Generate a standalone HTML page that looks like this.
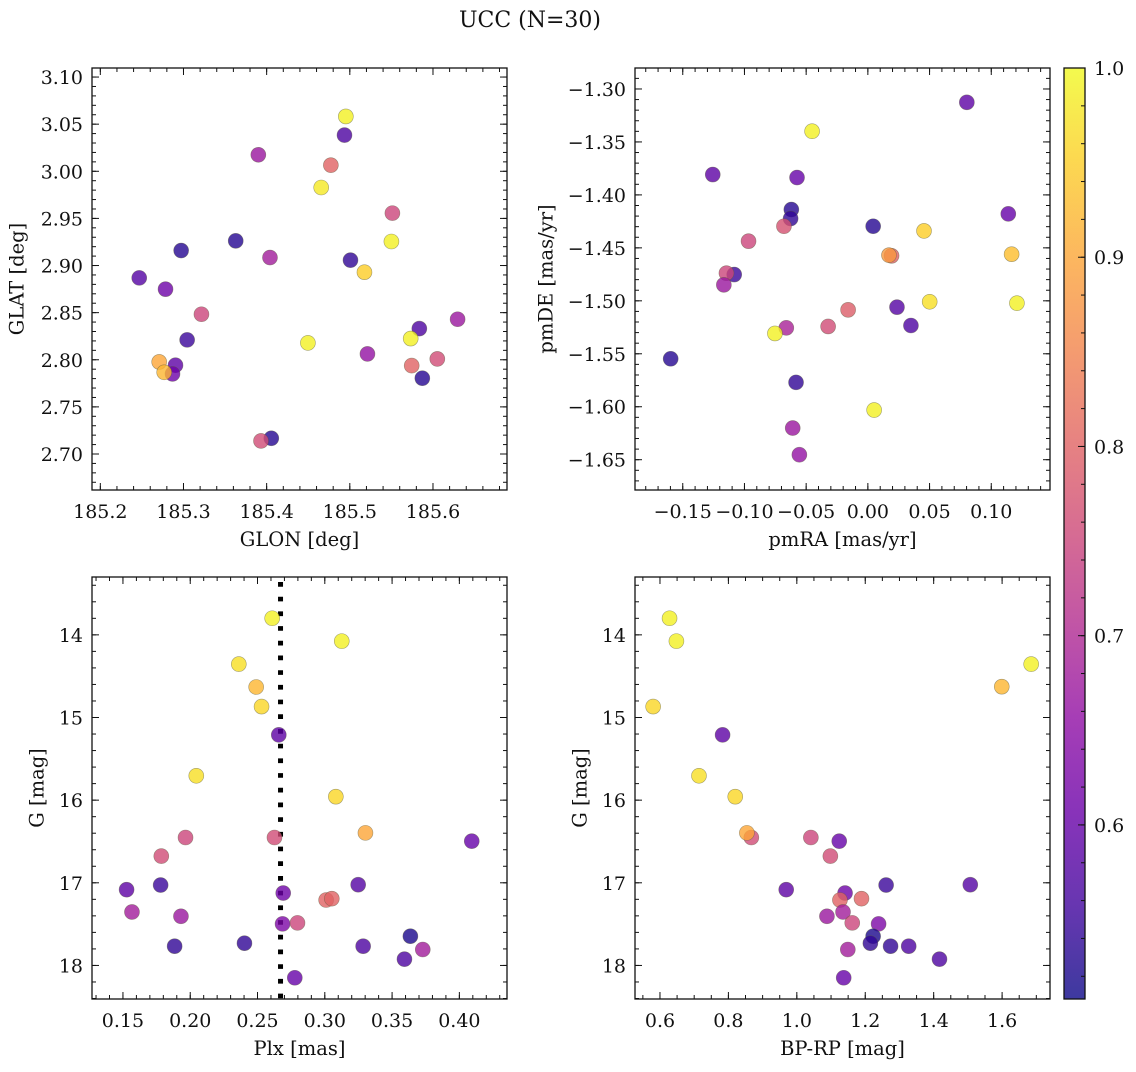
<!DOCTYPE html>
<html><head><meta charset="utf-8"><style>
html,body{margin:0;padding:0;background:#fff;}
svg text{font-family:"DejaVu Serif","Liberation Serif",serif;fill:#111;}
</style></head><body>
<svg id="fig" width="1136" height="1067" viewBox="0 0 1136 1067" xmlns="http://www.w3.org/2000/svg">
<text x="530" y="27" text-anchor="middle" font-size="22">UCC (N=30)</text>
<defs>
<linearGradient id="cbgrad" x1="0" y1="1" x2="0" y2="0">
<stop offset="0" stop-color="#0d0887"/><stop offset="0.1" stop-color="#41049d"/><stop offset="0.2" stop-color="#6a00a8"/><stop offset="0.3" stop-color="#8f0da4"/><stop offset="0.4" stop-color="#b12a90"/><stop offset="0.5" stop-color="#cc4778"/><stop offset="0.6" stop-color="#e16462"/><stop offset="0.7" stop-color="#f2844b"/><stop offset="0.8" stop-color="#fca636"/><stop offset="0.9" stop-color="#fcce25"/><stop offset="1" stop-color="#f0f921"/>
</linearGradient>
</defs>
</svg>
<script>
// ---- data: panel 1 (GLON vs GLAT)
const glon = [185.4952,185.4936,185.390,185.4772,185.4656,185.5512,185.550,185.3628,185.2972,185.404,185.5008,185.5176,185.2468,185.2784,185.3216,185.6296,185.5836,185.3044,185.4496,185.5732,185.5212,185.6052,185.2708,185.2904,185.5744,185.5872,185.2868,185.2768,185.4056,185.3932];
const glat = [3.0582,3.0384,3.0175,3.0065,2.9828,2.9556,2.9255,2.9262,2.9159,2.9085,2.9057,2.8929,2.8869,2.8749,2.8483,2.843,2.8331,2.8211,2.8179,2.8225,2.8062,2.8009,2.7977,2.7942,2.7938,2.7804,2.785,2.7867,2.7167,2.7139];
const prob1 = [0.99,0.57,0.67,0.80,0.98,0.75,0.99,0.53,0.53,0.68,0.54,0.95,0.58,0.61,0.75,0.67,0.57,0.55,0.99,0.99,0.66,0.76,0.90,0.59,0.80,0.53,0.61,0.92,0.53,0.76];
// ---- panel 2 (pmRA vs pmDE)
const pmra = [0.0802,-0.0452,-0.1257,-0.0574,-0.062,-0.0626,-0.068,0.0043,0.1138,0.0455,-0.0967,0.0192,0.0171,0.1165,-0.1083,-0.1146,-0.1167,0.0501,0.1208,0.0236,-0.016,-0.0322,0.0349,-0.0661,-0.0753,-0.1598,-0.0582,0.0051,-0.0609,-0.0555];
const pmde = [-1.3126,-1.3399,-1.3808,-1.3836,-1.4138,-1.4223,-1.4296,-1.4296,-1.4179,-1.434,-1.4437,-1.4575,-1.4569,-1.456,-1.4752,-1.4739,-1.4849,-1.5009,-1.5022,-1.506,-1.5085,-1.5242,-1.5233,-1.5255,-1.5308,-1.5547,-1.577,-1.6031,-1.6201,-1.6453];
const prob2 = [0.59,0.99,0.59,0.60,0.53,0.54,0.77,0.53,0.60,0.95,0.75,0.80,0.88,0.93,0.55,0.75,0.67,0.97,0.99,0.58,0.79,0.76,0.57,0.69,0.99,0.53,0.54,0.99,0.67,0.66];
// ---- panel 3 (Plx vs G)
const plx = [0.2609,0.3126,0.2361,0.249,0.253,0.2658,0.2045,0.3082,0.3302,0.4092,0.1965,0.2626,0.1785,0.1527,0.178,0.3248,0.2691,0.301,0.3052,0.1567,0.1931,0.2686,0.2797,0.1884,0.2403,0.3636,0.3285,0.3728,0.3592,0.2777];
const gmag3 = [13.799,14.076,14.354,14.631,14.868,15.21,15.705,15.958,16.396,16.496,16.452,16.452,16.677,17.083,17.027,17.023,17.124,17.208,17.192,17.353,17.405,17.497,17.485,17.767,17.731,17.646,17.767,17.807,17.924,18.149];
const prob3 = [0.99,0.99,0.97,0.92,0.96,0.59,0.97,0.96,0.90,0.60,0.75,0.76,0.76,0.59,0.55,0.58,0.61,0.80,0.80,0.68,0.67,0.63,0.75,0.54,0.54,0.52,0.57,0.68,0.57,0.60];
const plxMedian = [0.2671];
// ---- panel 4 (BP-RP vs G)
const bprp = [0.628,0.648,0.58,1.685,1.599,0.783,0.714,0.82,0.867,0.854,1.041,1.124,1.098,0.969,1.261,1.507,1.141,1.189,1.126,1.135,1.088,1.162,1.239,1.223,1.215,1.274,1.327,1.149,1.417,1.137];
const gmag4 = [13.799,14.076,14.868,14.354,14.627,15.21,15.705,15.958,16.452,16.396,16.452,16.496,16.677,17.083,17.027,17.023,17.124,17.192,17.208,17.353,17.405,17.485,17.497,17.646,17.731,17.767,17.767,17.807,17.924,18.149];
const prob4 = [0.99,0.99,0.96,0.99,0.92,0.59,0.97,0.96,0.76,0.90,0.75,0.60,0.76,0.59,0.55,0.58,0.61,0.80,0.80,0.68,0.67,0.75,0.63,0.52,0.54,0.54,0.57,0.68,0.57,0.60];
const cbTicks = [0.6,0.7,0.8,0.9,1.0];

const NS = "http://www.w3.org/2000/svg";
const svg = document.getElementById('fig');
const VMIN = 0.508, VMAX = 1.0;
const stops = ["#0d0887","#41049d","#6a00a8","#8f0da4","#b12a90","#cc4778","#e16462","#f2844b","#fca636","#fcce25","#f0f921"];
function hx(h){return [parseInt(h.substr(1,2),16),parseInt(h.substr(3,2),16),parseInt(h.substr(5,2),16)];}
function plasma(v){
  let t=(v-VMIN)/(VMAX-VMIN); t=Math.max(0,Math.min(1,t));
  const f=t*10, i=Math.min(9,Math.floor(f)), u=f-i;
  const a=hx(stops[i]), b=hx(stops[i+1]);
  return 'rgb('+a.map((c,k)=>Math.round(c+(b[k]-c)*u)).join(',')+')';
}
function mk(tag, attrs, parent){
  const e=document.createElementNS(NS,tag);
  for(const k in attrs) e.setAttribute(k,attrs[k]);
  (parent||svg).appendChild(e); return e;
}
function fmt(v,d){ const s=Math.abs(v).toFixed(d); return (v< -1e-9?'\u2212':'')+s; }

function panel(o){
  const g=mk('g',{});
  
  
  const X=v=>o.x0+(v-o.xlim[0])/(o.xlim[1]-o.xlim[0])*(o.x1-o.x0);
  const Y=v=>o.y1-(v-o.ylim[0])/(o.ylim[1]-o.ylim[0])*(o.y1-o.y0);
  const tk=mk('g',{stroke:'#111','stroke-width':1},g);
  
  
  function ticksX(step,len,lab,dec){
    const lo=Math.min(o.xlim[0],o.xlim[1]), hi=Math.max(o.xlim[0],o.xlim[1]);
    for(let i=Math.ceil(lo/step-1e-6);i<=Math.floor(hi/step+1e-6);i++){
      const v=i*step, px=X(v);
      mk('line',{x1:px,x2:px,y1:o.y1,y2:o.y1-len},tk);
      mk('line',{x1:px,x2:px,y1:o.y0,y2:o.y0+len},tk);
      if(lab){ const t=mk('text',{x:px,y:o.y1+28,'text-anchor':'middle','font-size':19,stroke:'none'},g); t.textContent=fmt(v,dec);
          }
    }
  }
  function ticksY(step,len,lab,dec){
    const lo=Math.min(o.ylim[0],o.ylim[1]), hi=Math.max(o.ylim[0],o.ylim[1]);
    for(let i=Math.ceil(lo/step-1e-6);i<=Math.floor(hi/step+1e-6);i++){
      const v=i*step, py=Y(v);
      mk('line',{x1:o.x0,x2:o.x0+len,y1:py,y2:py},tk);
      mk('line',{x1:o.x1,x2:o.x1-len,y1:py,y2:py},tk);
      if(lab){ const t=mk('text',{x:o.x0-9,y:py+7,'text-anchor':'end','font-size':19,stroke:'none'},g); t.textContent=fmt(v,dec);
          }
    }
  }
  ticksX(o.xmin,4,false); ticksX(o.xmaj,7,true,o.xdec);
  ticksY(o.ymin,4,false); ticksY(o.ymaj,7,true,o.ydec);
  if(o.vline){ const l=mk('line',{x1:X(o.vline[0]),x2:X(o.vline[0]),y1:o.y0+5,y2:o.y1,stroke:'#000','stroke-width':5,'stroke-dasharray':'4.7 10'},g);
      }
  for(let i=0;i<o.xs.length;i++){
    const c=mk('circle',{cx:X(o.xs[i]),cy:Y(o.ys[i]),r:7.5,fill:plasma(o.cs[i]),'fill-opacity':0.8,stroke:'rgba(90,90,60,0.55)','stroke-width':0.6},g);
    
    
  }
  const fr=mk('rect',{x:o.x0,y:o.y0,width:o.x1-o.x0,height:o.y1-o.y0,fill:'none',stroke:'#111','stroke-width':1.3},g);
   
  const xl=mk('text',{x:(o.x0+o.x1)/2,y:o.y1+56,'text-anchor':'middle','font-size':19.5},g); xl.textContent=o.xlabel;
   
  const yl=mk('text',{x:0,y:0,'text-anchor':'middle','font-size':19.5,transform:'translate('+o.ylx+','+((o.y0+o.y1)/2)+') rotate(-90)','dominant-baseline':'central'},g); yl.textContent=o.ylabel;
   
}

panel({name:'sky-position-panel',x0:92,x1:507,y0:68,y1:490,xlim:[185.19,185.689],ylim:[2.6618,3.1096],xmaj:0.1,xmin:0.02,ymaj:0.05,ymin:0.01,xdec:1,ydec:2,xs:glon,ys:glat,cs:prob1,xlabel:'GLON [deg]',ylabel:'GLAT [deg]',ylx:17});
panel({name:'proper-motion-panel',x0:635,x1:1050,y0:68,y1:490,xlim:[-0.1887,0.1476],ylim:[-1.6786,-1.2802],xmaj:0.05,xmin:0.01,ymaj:0.05,ymin:0.01,xdec:2,ydec:2,xs:pmra,ys:pmde,cs:prob2,xlabel:'pmRA [mas/yr]',ylabel:'pmDE [mas/yr]',ylx:546});
panel({name:'parallax-panel',x0:92,x1:507,y0:577,y1:999,xlim:[0.127,0.4354],ylim:[18.406,13.30],xmaj:0.05,xmin:0.01,ymaj:1,ymin:0.2,xdec:2,ydec:0,xs:plx,ys:gmag3,cs:prob3,xlabel:'Plx [mas]',ylabel:'G [mag]',ylx:37,vline:plxMedian});
panel({name:'cmd-panel',x0:635,x1:1050,y0:577,y1:999,xlim:[0.527,1.740],ylim:[18.406,13.30],xmaj:0.2,xmin:0.05,ymaj:1,ymin:0.2,xdec:1,ydec:0,xs:bprp,ys:gmag4,cs:prob4,xlabel:'BP-RP [mag]',ylabel:'G [mag]',ylx:580});

const cb=mk('g',{});


const cx0=1064,cx1=1085,cy0=68,cy1=999;
const CY=v=>cy1-(v-VMIN)/(VMAX-VMIN)*(cy1-cy0);
mk('rect',{x:cx0,y:cy0,width:cx1-cx0,height:cy1-cy0,fill:'url(#cbgrad)','fill-opacity':0.8},cb);
for(let i=Math.ceil(VMIN/0.02);i<=Math.floor(VMAX/0.02+1e-6);i++){
  const py=CY(i*0.02); mk('line',{x1:cx1,x2:cx1-4,y1:py,y2:py,stroke:'#111','stroke-width':1},cb);
}
cbTicks.forEach(v=>{
  const py=CY(v); mk('line',{x1:cx1,x2:cx1-7,y1:py,y2:py,stroke:'#111','stroke-width':1},cb);
  const t=mk('text',{x:cx1+9,y:py+7,'font-size':19},cb); t.textContent=v.toFixed(1);
  
  
});
mk('rect',{x:cx0,y:cy0,width:cx1-cx0,height:cy1-cy0,fill:'none',stroke:'#111','stroke-width':1.3},cb);
</script>
</body></html>
